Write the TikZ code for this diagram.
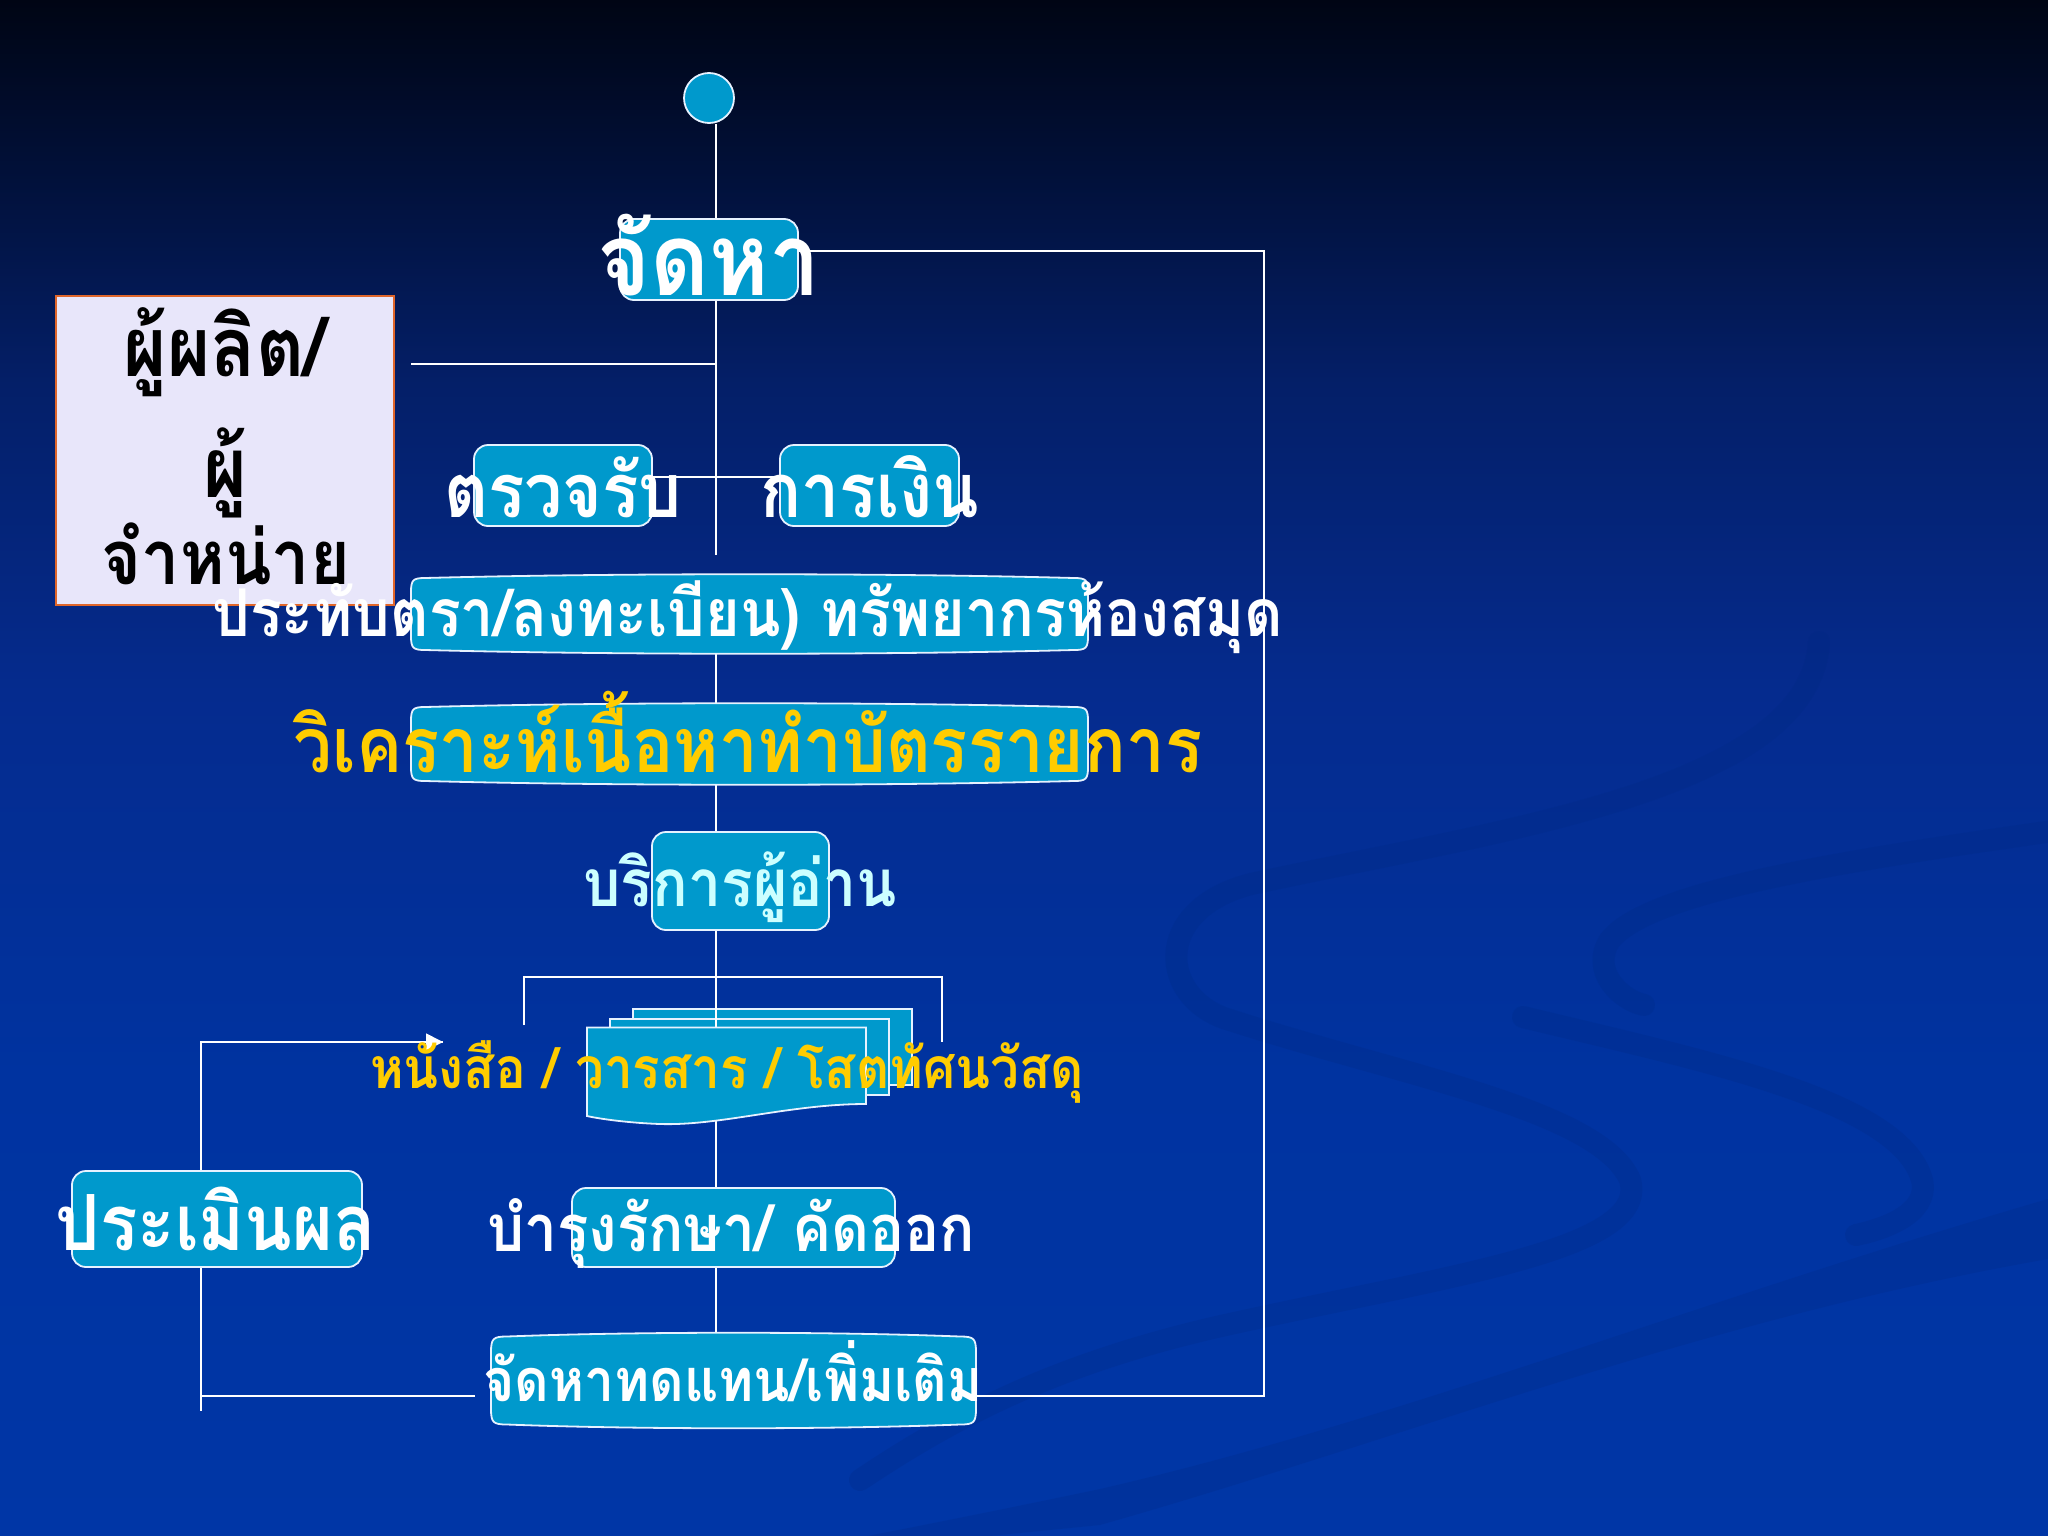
\documentclass[tikz,border=0pt]{standalone}
\usepackage{fontspec}
\newfontfamily\thaif[Script=Thai,FakeStretch=0.9]{Loma}
\usetikzlibrary{arrows.meta,calc}
\pgfdeclarelayer{back}
\pgfdeclarelayer{wires}
\pgfsetlayers{back,wires,main}
\definecolor{boxc}{HTML}{0099CC}
\definecolor{boxedge}{HTML}{E6F2FF}
\definecolor{ylw}{HTML}{FFCC00}
\definecolor{cyantxt}{HTML}{CCFFFF}
\definecolor{prodfill}{HTML}{E8E6FA}
\definecolor{prodedge}{HTML}{E0662A}
\definecolor{bgA}{HTML}{000514}
\definecolor{bgB}{HTML}{010F35}
\definecolor{bgC}{HTML}{041F68}
\definecolor{bgD}{HTML}{052B8E}
\definecolor{bgE}{HTML}{0033A0}
\definecolor{bgF}{HTML}{0036A6}
\definecolor{swirl}{HTML}{00287F}
\pgfdeclareverticalshading{bgsh}{100bp}{color(0bp)=(bgF); color(25bp)=(bgF); color(40bp)=(bgE); color(52.5bp)=(bgD); color(62.5bp)=(bgC); color(70bp)=(bgB); color(75bp)=(bgA); color(100bp)=(bgA)}
\newcommand\bulgebox[3]{%
  \filldraw[boxpaint]
  ($(#1.north west)+(0,#2)$) .. controls ($(#1.north west)+(0,2)$) and ($(#1.north west)+(2,0)$) .. ($(#1.north west)+(#2,0)$)
  .. controls ($(#1.north west)!0.3!(#1.north east)+(0,-#3)$) and ($(#1.north west)!0.7!(#1.north east)+(0,-#3)$) .. ($(#1.north east)+(-#2,0)$)
  .. controls ($(#1.north east)+(-2,0)$) and ($(#1.north east)+(0,2)$) .. ($(#1.north east)+(0,#2)$)
  -- ($(#1.south east)+(0,-#2)$)
  .. controls ($(#1.south east)+(0,-2)$) and ($(#1.south east)+(-2,0)$) .. ($(#1.south east)+(-#2,0)$)
  .. controls ($(#1.south east)!0.3!(#1.south west)+(0,#3)$) and ($(#1.south east)!0.7!(#1.south west)+(0,#3)$) .. ($(#1.south west)+(#2,0)$)
  .. controls ($(#1.south west)+(2,0)$) and ($(#1.south west)+(0,-2)$) .. ($(#1.south west)+(0,-#2)$)
  -- cycle;}
\newcommand\tx[2]{\resizebox{#1pt}{!}{\thaif\bfseries\fontsize{60}{60}\selectfont #2}}
\begin{document}
\begin{tikzpicture}[x=1pt,y=-1pt,
  boxpaint/.style={draw=boxedge,fill=boxc,line width=1.8pt},
  rbox/.style={boxpaint,rounded corners=14pt,inner sep=0pt},
  slot/.style={inner sep=0pt,outer sep=0pt},
  conn/.style={draw=white,line width=1.8pt},
  lbl/.style={anchor=base,inner sep=0pt,text=white},
  swirlline/.style={draw=swirl,opacity=0.22,line cap=round}]
\useasboundingbox (0,0) rectangle (2048,1536);
\begin{pgfonlayer}{back}
  \shade[shading=bgsh] (0,0) rectangle (2048,1536);
  \begin{scope}
  \clip (0,0) rectangle (2048,1536);
  \draw[swirlline,line width=22pt] (1819,642) .. controls (1810,790) and (1500,830) .. (1251,884)
     .. controls (1150,910) and (1160,1000) .. (1230,1020)
     .. controls (1400,1075) and (1600,1110) .. (1630,1180)
     .. controls (1650,1250) and (1450,1275) .. (1221,1326)
     .. controls (1050,1365) and (950,1420) .. (860,1480);
  \draw[swirlline,line width=22pt] (2060,830) .. controls (1850,860) and (1650,890) .. (1610,940)
     .. controls (1590,970) and (1620,1000) .. (1644,1005);
  \draw[swirlline,line width=22pt] (1523,1017) .. controls (1700,1060) and (1900,1100) .. (1922,1180)
     .. controls (1930,1215) and (1880,1230) .. (1856,1235);
  \fill[swirl,opacity=0.22] (2048,1199) .. controls (1700,1300) and (1400,1420) .. (1100,1489)
     .. controls (1000,1510) and (900,1530) .. (820,1545) -- (900,1545)
     .. controls (1000,1535) and (1050,1530) .. (1100,1525)
     .. controls (1400,1440) and (1700,1320) .. (2048,1259) -- cycle;
  \end{scope}
\end{pgfonlayer}

% nodes
\node[circle,draw=boxedge,fill=boxc,line width=1.8pt,minimum width=48pt,minimum height=50pt,inner sep=0pt] (start) at (709,98) {};
\node[rbox,minimum width=178pt,minimum height=81pt] (jadha) at (709,259.5) {};
\node[draw=prodedge,fill=prodfill,line width=2pt,minimum width=338pt,minimum height=309pt,inner sep=0pt] (prod) at (225,450.5) {};
\node[rbox,minimum width=178pt,minimum height=81pt] (check) at (563,485.5) {};
\node[rbox,minimum width=179pt,minimum height=81pt] (fin) at (869.5,485.5) {};
\node[slot,minimum width=677pt,minimum height=72pt] (stamp) at (749.5,614) {};
\bulgebox{stamp}{14}{5}
\node[slot,minimum width=677pt,minimum height=74pt] (anal) at (749.5,744) {};
\bulgebox{anal}{14}{5}
\node[rbox,minimum width=177pt,minimum height=98pt] (serv) at (740.5,881) {};
\node[slot,minimum width=279pt,minimum height=76pt] (docf) at (726.5,1065.5) {};
\node[rbox,minimum width=290pt,minimum height=96pt] (eval) at (217,1219) {};
\node[rbox,minimum width=323pt,minimum height=79pt] (maint) at (733.5,1227.5) {};
\node[slot,minimum width=485pt,minimum height=88pt] (repl) at (733.5,1380.5) {};
\bulgebox{repl}{16}{5}

% front document
\filldraw[boxpaint] (docf.north west) -- (docf.north east) -- (866,1104)
  .. controls (790,1104) and (720,1126) .. (660,1124)
  .. controls (630,1123) and (600,1119) .. (docf.west |- 0,1116) -- cycle;

\coordinate (vx) at (716,0);
\coordinate (vend) at (716,555);
\coordinate (pl) at (411,364);
\coordinate (rloop) at (1264,800);
\coordinate (brL) at (524,1025);
\coordinate (brTop) at (716,977);
\coordinate (brR) at (942,1042);
\coordinate (lx) at (201,0);
\coordinate (arrowtip) at (443,1042);
\coordinate (lbot) at (201,1411);
\coordinate (lmid) at (201,1396);

\begin{pgfonlayer}{wires}
  % back documents
  \filldraw[boxpaint] (633,1009) rectangle (912,1085);
  \filldraw[boxpaint] (610,1019) rectangle (889,1095);
  \draw[conn] (start.south -| vx) -- (jadha.north -| vx);
  \draw[conn] (jadha.south -| vx) -- (vend);
  \draw[conn] (pl) -- (pl -| vx);
  \draw[conn] ([yshift=8.5pt]check.east) -- ([yshift=8.5pt]fin.west);
  \draw[conn] (stamp.south -| vx) -- (anal.north -| vx);
  \draw[conn] (anal.south -| vx) -- (serv.north -| vx);
  \draw[conn] (serv.south -| vx) -- (docf.north -| vx);
  \draw[conn] (brL) |- (brTop) -| (brR);
  \draw[conn] (docf.south -| vx) -- (maint.north -| vx);
  \draw[conn] (maint.south -| vx) -- (repl.north -| vx);
  \draw[conn] ([yshift=8.5pt]jadha.east) -| (rloop) |- ([yshift=-15.5pt]repl.east);
  \draw[conn] (eval.north -| lx) |- (arrowtip);
  \draw[conn] (eval.south -| lx) -- (lbot);
  \draw[conn] (lmid) -- ([xshift=-16pt]repl.west |- lmid);
\end{pgfonlayer}
\draw[white,line width=1.8pt,-{Triangle[length=17pt,width=17pt]}] ([xshift=-20pt]arrowtip) -- (arrowtip);

% labels
\node[lbl] (tjadha) at (709,295) {\tx{223}{จัดหา}};
\node[lbl,text=black] (tprodA) at (225,376) {\tx{202}{ผู้ผลิต/}};
\node[lbl,text=black] (tprodB) at (225,497) {\tx{44}{ผู้}};
\node[lbl,text=black] (tprodC) at (226,584) {\tx{248}{จำหน่าย}};
\node[lbl] (tcheck) at (563,517) {\tx{238}{ตรวจรับ}};
\node[lbl] (tfin) at (870,517) {\tx{219}{การเงิน}};
\node[lbl] (tstamp) at (748,636) {\tx{1071}{ประทับตรา/ลงทะเบียน) ทรัพยากรห้องสมุด}};
\node[lbl,text=ylw] (tanal) at (748,772) {\tx{908}{วิเคราะห์เนื้อหาทำบัตรรายการ}};
\node[lbl,text=cyantxt] (tserv) at (740,906) {\tx{313}{บริการผู้อ่าน}};
\node[lbl,text=ylw] (tdocs) at (727,1088) {\tx{714}{หนังสือ / วารสาร / โสตทัศนวัสดุ}};
\node[lbl] (teval) at (216,1250) {\tx{320}{ประเมินผล}};
\node[lbl] (tmaint) at (731,1251) {\tx{488}{บำรุงรักษา/ คัดออก}};
\node[lbl] (trepl) at (733,1401) {\tx{499}{จัดหาทดแทน/เพิ่มเติม}};
\end{tikzpicture}
\end{document}
